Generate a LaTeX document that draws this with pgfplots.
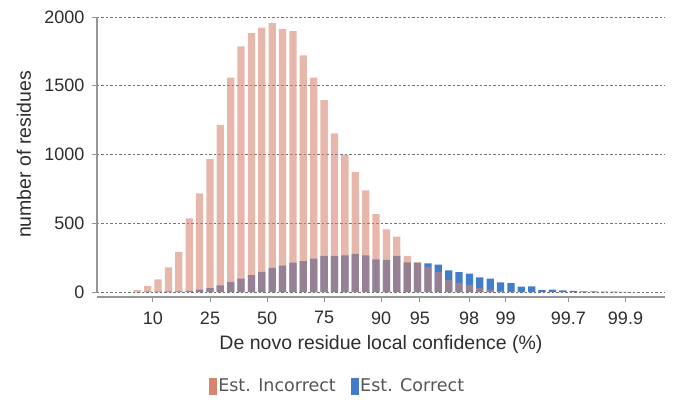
\documentclass[border=0pt]{standalone}
\usepackage{pgfplots}
\pgfplotsset{compat=1.18}
\usepackage{pgfplotstable}
\usepackage{fontspec}
\setmainfont{Liberation Sans}
\newfontfamily\legendfont{DejaVu Sans}

\definecolor{incorrect}{RGB}{214,131,111}
\definecolor{correct}{RGB}{65,125,200}
\definecolor{txt}{RGB}{45,45,45}
\definecolor{legtxt}{RGB}{85,85,85}
\definecolor{axgray}{RGB}{150,150,150}
\definecolor{gridgray}{RGB}{115,115,115}

% histogram bins on a logit scale (bin width 0.2), counts per bin
\pgfplotstableread{
conf incorrect correct
-2.5   15    0
-2.3   42    2
-2.1   92    3
-1.9  180    4
-1.7  292    5
-1.5  535    8
-1.3  717   17
-1.1  967   29
-0.9 1215   49
-0.7 1560   73
-0.5 1786   97
-0.3 1883  122
-0.1 1922  146
 0.1 1956  175
 0.3 1913  192
 0.5 1898  214
 0.7 1721  224
 0.9 1560  243
 1.1 1395  262
 1.3 1154  262
 1.5  996  267
 1.7  872  277
 1.9  739  267
 2.1  566  237
 2.3  455  234
 2.5  402  263
 2.7  263  215
 2.9  217  212
 3.1  182  208
 3.3  144  200
 3.5   87  157
 3.7   66  145
 3.9   51  134
 4.1   29  106
 4.3   17   97
 4.5    7   70
 4.7    5   65
 4.9    3   39
 5.1    2   41
 5.3    1   16
 5.5    1   17
 5.7    0   12
 5.9    0    8
 6.1    0    5
 6.3    0    5
 6.5    0    2
 6.7    0    2
 6.9    0    1
}\bins

\begin{document}
\begin{tikzpicture}
\useasboundingbox (-97pt,-110pt) rectangle (576pt,292pt);
\begin{axis}[
  at={(0pt,0pt)}, anchor=south west,
  scale only axis, width=568pt, height=275pt,
  xmin=-3.276, xmax=7.668, ymin=0, ymax=2000,
  axis lines*=left,
  axis line style={axgray, line width=1.2pt},
  x axis line style={yshift=-5pt},
  xtick style={yshift=-5pt, axgray, line width=1pt},
  ytick style={axgray, line width=1pt},
  tick align=outside,
  major tick length=5pt,
  xtick={-2.1972,-1.0986,0,1.0986,2.1972,2.9444,3.8918,4.5951,5.8061,6.9068},
  xticklabels={10,25,50,75,90,95,98,99,99.7,99.9},
  ytick={0,500,1000,1500,2000},
  /pgf/number format/assume math mode=true,
  /pgf/number format/1000 sep={},
  ticklabel style={font=\fontsize{18}{20}\selectfont, text=txt},
  xticklabel style={yshift=-11pt},
  yticklabel style={xshift=-4pt},
  ymajorgrids,
  major grid style={gridgray, dash pattern=on 2.5pt off 2pt, line width=0.7pt},
  xlabel={De novo residue local confidence (\%)},
  ylabel={number of residues},
  label style={font=\fontsize{19.5}{22}\selectfont, text=txt},
  xlabel style={at={(axis description cs:0.5,-0.192)}, anchor=center},
  ylabel style={at={(axis description cs:-0.1285,0.5)}, anchor=center},
  legend style={at={(0.4234,-0.342)}, anchor=center, draw=none, fill=none,
    legend columns=2, font=\legendfont\fontsize{17.5}{20}\selectfont, text=legtxt,
    /tikz/every even column/.append style={column sep=13pt}},
  legend cell align=left,
]
\addplot[ybar, bar shift=0pt, bar width=0.14, fill=correct, draw=none, forget plot]
  table[x=conf, y=correct] {\bins};
\addplot[ybar, bar shift=0pt, bar width=0.14, fill=incorrect, fill opacity=0.58, draw=none, forget plot]
  table[x=conf, y=incorrect] {\bins};
\addlegendimage{legend image code/.code={\fill[incorrect] (0pt,-8pt) rectangle (7pt,8pt);}}
\addlegendentry{Est. Incorrect}
\addlegendimage{legend image code/.code={\fill[correct] (0pt,-8pt) rectangle (7pt,8pt);}}
\addlegendentry{Est. Correct}
\end{axis}
\end{tikzpicture}
\end{document}
